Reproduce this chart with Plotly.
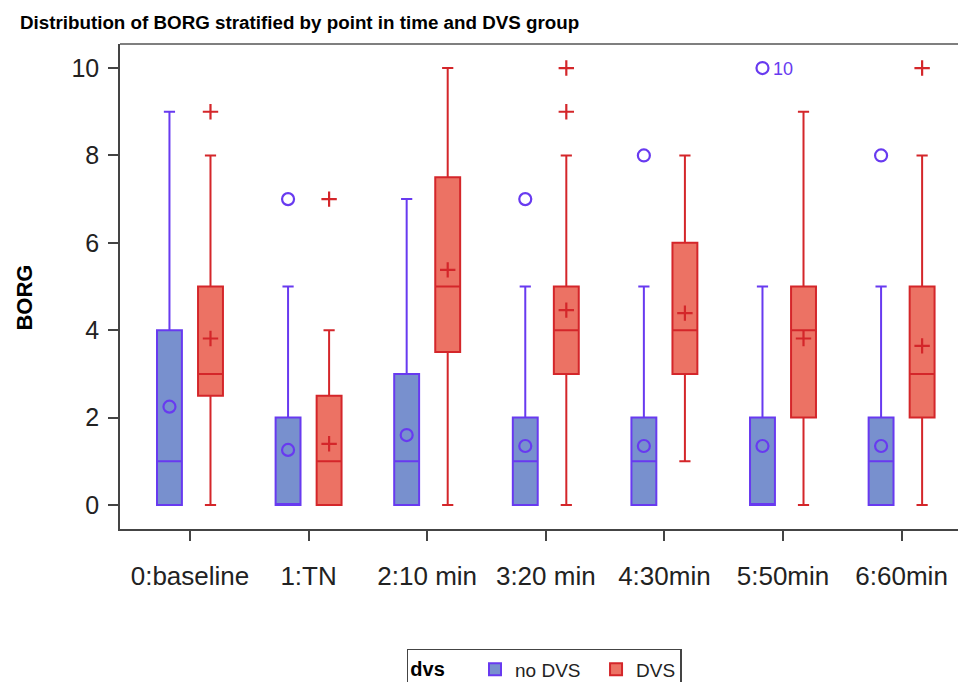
import plotly.graph_objects as go

categories = ["0:baseline", "1:TN", "2:10 min", "3:20 min", "4:30min", "5:50min", "6:60min"]

# no DVS group
nodvs_low = [0, 0, 0, 0, 0, 0, 0]
nodvs_q1 = [0, 0, 0, 0, 0, 0, 0]
nodvs_med = [1, 0, 1, 1, 1, 0, 1]
nodvs_q3 = [4, 2, 3, 2, 2, 2, 2]
nodvs_high = [9, 5, 7, 5, 5, 5, 5]
nodvs_mean = [2.25, 1.26, 1.6, 1.35, 1.35, 1.35, 1.35]
nodvs_out_cat = [1, 3, 4, 5, 6]
nodvs_out_val = [7, 7, 8, 10, 8]

# DVS group
dvs_low = [0, 0, 0, 0, 1, 0, 0]
dvs_q1 = [2.5, 0, 3.5, 3, 3, 2, 2]
dvs_med = [3, 1, 5, 4, 4, 4, 3]
dvs_q3 = [5, 2.5, 7.5, 5, 6, 5, 5]
dvs_high = [8, 4, 10, 8, 8, 9, 8]
dvs_mean = [3.81, 1.40, 5.38, 4.46, 4.39, 3.81, 3.64]
dvs_out_cat = [0, 1, 3, 3, 6]
dvs_out_val = [9, 7, 9, 10, 10]

y_ticks = [0, 2, 4, 6, 8, 10]

BLUE_FILL = "rgb(120,144,206)"
BLUE_LINE = "rgb(104,58,240)"
RED_FILL = "rgb(236,114,100)"
RED_LINE = "rgb(212,38,42)"
OFF = 0.173
BW = 0.21
FONT = "Liberation Sans, Arial, Helvetica, sans-serif"
NB = "\u00a0"

idx = list(range(len(categories)))
xb = [i - OFF for i in idx]
xr = [i + OFF for i in idx]

fig = go.Figure()
fig.add_trace(go.Box(
    name="no DVS" + NB * 2, x=xb, q1=nodvs_q1, median=nodvs_med, q3=nodvs_q3,
    lowerfence=nodvs_low, upperfence=nodvs_high, width=BW,
    fillcolor=BLUE_FILL, line=dict(color=BLUE_LINE, width=2),
    whiskerwidth=0.45, boxpoints=False, hoverinfo="skip"))
fig.add_trace(go.Box(
    name="DVS", x=xr, q1=dvs_q1, median=dvs_med, q3=dvs_q3,
    lowerfence=dvs_low, upperfence=dvs_high, width=BW,
    fillcolor=RED_FILL, line=dict(color=RED_LINE, width=2),
    whiskerwidth=0.45, boxpoints=False, hoverinfo="skip"))

# means
fig.add_trace(go.Scatter(x=xb, y=nodvs_mean, mode="markers", showlegend=False,
                         marker=dict(symbol="circle-open", size=12, color=BLUE_LINE, line=dict(width=2.2))))
fig.add_trace(go.Scatter(x=xr, y=dvs_mean, mode="markers", showlegend=False,
                         marker=dict(symbol="cross-thin-open", size=11, color=RED_LINE, line=dict(width=2.2, color=RED_LINE))))
# outliers
fig.add_trace(go.Scatter(x=[c - OFF for c in nodvs_out_cat], y=nodvs_out_val, mode="markers", showlegend=False,
                         marker=dict(symbol="circle-open", size=12, color=BLUE_LINE, line=dict(width=2.2))))
fig.add_trace(go.Scatter(x=[c + OFF for c in dvs_out_cat], y=dvs_out_val, mode="markers", showlegend=False,
                         marker=dict(symbol="cross-thin-open", size=11, color=RED_LINE, line=dict(width=2.2, color=RED_LINE))))

# label for extreme outlier
fig.add_annotation(x=nodvs_out_cat[3] - OFF, y=nodvs_out_val[3], text=str(nodvs_out_val[3]),
                   showarrow=False, xanchor="left", xshift=9, yshift=-1,
                   font=dict(family=FONT, size=18, color=BLUE_LINE))

# y-axis title
fig.add_annotation(text="<b>BORG</b>", xref="paper", yref="paper", x=-0.113, y=0.478,
                   textangle=-90, showarrow=False, xanchor="center", yanchor="middle",
                   font=dict(family=FONT, size=22, color="#000"))

# top frame line
fig.add_shape(type="line", xref="paper", yref="paper", x0=0, x1=1, y0=1, y1=1,
              line=dict(color="#555", width=1.5))

fig.update_layout(
    width=958, height=674,
    margin=dict(l=112, r=0, t=36, b=153, autoexpand=False),
    paper_bgcolor="white", plot_bgcolor="white",
    title=dict(text="<b>Distribution of BORG stratified by point in time and DVS group</b>",
               x=0.0125, xanchor="left", y=0.979, yanchor="middle",
               font=dict(family=FONT, size=18.8, color="#000")),
    font=dict(family=FONT, color="#222"),
    xaxis=dict(range=[-0.59, 6.543], tickvals=idx, ticktext=categories, automargin=False,
               showgrid=False, zeroline=False, showline=True, linecolor="#444", linewidth=1.5,
               ticks="outside", ticklen=10, tickwidth=1.5, tickcolor="#444", ticklabelstandoff=13,
               tickfont=dict(family=FONT, size=26, color="#222")),
    yaxis=dict(range=[-0.55, 10.55], tickvals=y_ticks, automargin=False,
               showgrid=False, zeroline=False, showline=True, linecolor="#444", linewidth=1.5,
               ticks="outside", ticklen=10, tickwidth=1.5, tickcolor="#444", ticklabelstandoff=4,
               tickfont=dict(family=FONT, size=25, color="#222")),
    showlegend=True,
    legend=dict(orientation="h", x=0.339, y=-0.247, xanchor="left", yanchor="top",
                bordercolor="#444", borderwidth=1.5, bgcolor="white",
                title=dict(text="<b>dvs</b>" + NB * 4, font=dict(family=FONT, size=20, color="#000")),
                font=dict(family=FONT, size=19, color="#222")),
)

fig.write_html("out.html")
